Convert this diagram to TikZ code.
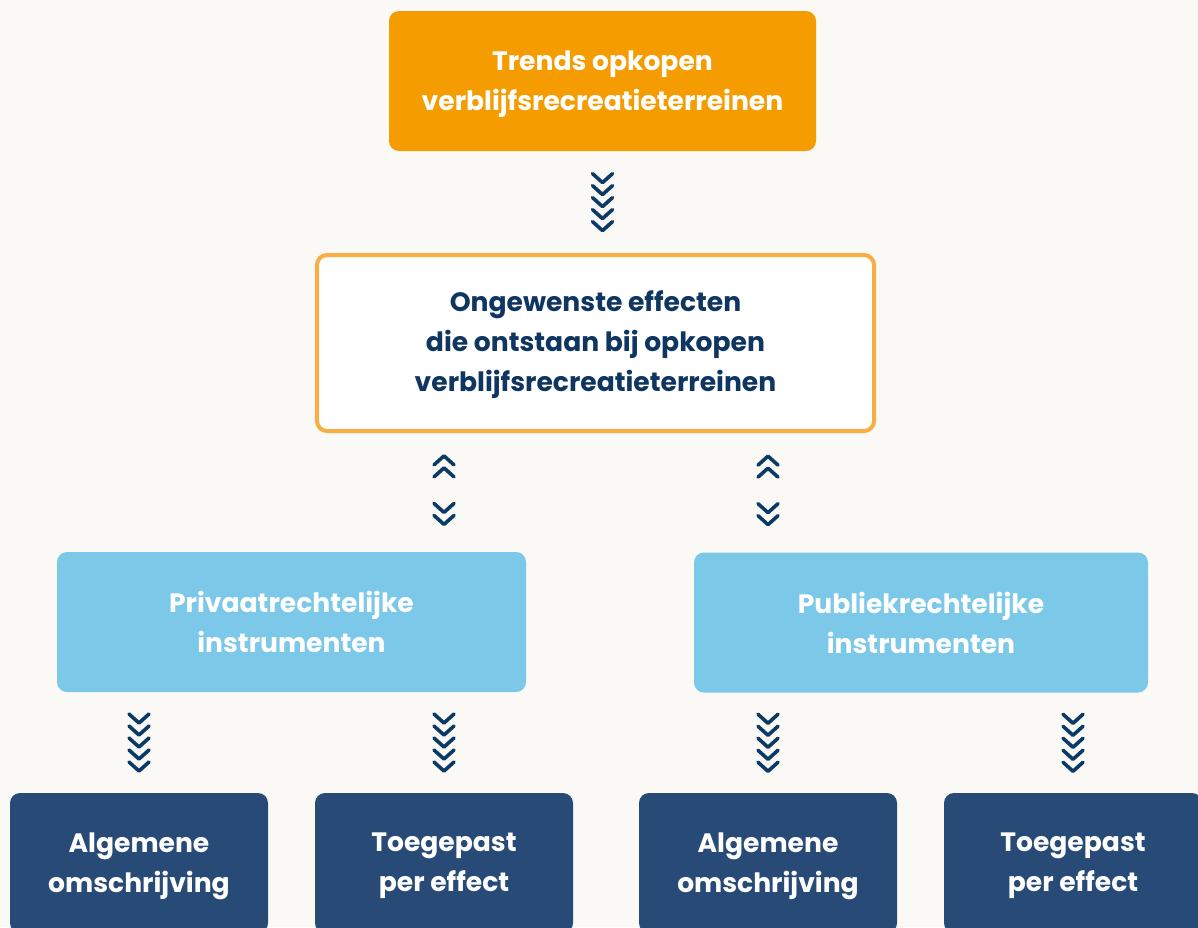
\documentclass[tikz,border=0pt]{standalone}
\usepackage{fontspec}
\setmainfont{Poppins}
\usetikzlibrary{calc}
\definecolor{bgcol}{HTML}{FAF9F5}
\definecolor{trendorange}{HTML}{F59C00}
\definecolor{frameorange}{HTML}{F9AE45}
\definecolor{navytext}{HTML}{0F3561}
\definecolor{lightblue}{HTML}{7BC8E8}
\definecolor{darkblue}{HTML}{274A76}
\definecolor{chevcol}{HTML}{0B3A67}
\tikzset{
  box/.style={rounded corners=10pt, align=center, font=\bfseries\fontsize{26.6}{40}\selectfont, inner sep=0pt},
  trendbox/.style={box, text depth=-2pt, fill=trendorange, text=white, minimum width=427pt, minimum height=140pt},
  effectbox/.style={box, text depth=3pt, fill=white, draw=frameorange, line width=4pt, text=navytext, minimum width=557pt, minimum height=176pt},
  instrbox/.style={box, fill=lightblue, text=white, minimum height=140pt},
  leafbox/.style={box, text depth=1pt, fill=darkblue, text=white, minimum width=258pt, minimum height=140pt},
  chevline/.style={draw=chevcol, line width=3.6pt, line cap=round, line join=round},
  pics/chevdown/.style={code={
    \foreach \k in {0,...,#1} {\path[chevline] (-10,\k*12-4.5) -- (0,\k*12+4.5) -- (10,\k*12-4.5);}
  }},
  pics/chevup/.style={code={
    \foreach \k in {0,...,#1} {\path[chevline] (-10,\k*12+4.5) -- (0,\k*12-4.5) -- (10,\k*12+4.5);}
  }}
}
\begin{document}
\begin{tikzpicture}[x=1pt, y=-1pt]
\fill[bgcol] (0,0) rectangle (1198,927);
\useasboundingbox (0,0) rectangle (1198,927);
\clip (0,0) rectangle (1198,927);

\node[trendbox] (trend) at (602.5,81) {Trends opkopen\\verblijfsrecreatieterreinen};
\node[effectbox] (effect) at (595.5,343) {Ongewenste effecten\\die ontstaan bij opkopen\\verblijfsrecreatieterreinen};
\node[instrbox, minimum width=469pt] (priv) at (291.5,622) {Privaatrechtelijke\\instrumenten};
\node[instrbox, minimum width=454pt] (publ) at (921,622.5) {Publiekrechtelijke\\instrumenten};

\node[leafbox] (privalg) at (139,863) {Algemene\\omschrijving};
\node[leafbox] (privtoe) at (444,863) {Toegepast\\per effect};
\node[leafbox] (publalg) at (768,863) {Algemene\\omschrijving};
\node[leafbox] (publtoe) at (1073,863) {Toegepast\\per effect};

% chevron connectors
\coordinate (c1) at ($(trend.south)!0.5!(trend.south|-effect.north)$);
\pic at ($(c1)+(0,-24)$) {chevdown=4};

\coordinate (c2) at ($(effect.south)!0.5!(priv.north)$);
\coordinate (c3) at ($(effect.south)!0.5!(publ.north)$);
\pic at ($(c2-|privtoe.north)+(0,-32)$) {chevup=1};
\pic at ($(c2-|privtoe.north)+(0,15.5)$) {chevdown=1};
\pic at ($(c3-|publalg.north)+(0,-32)$) {chevup=1};
\pic at ($(c3-|publalg.north)+(0,15.5)$) {chevdown=1};

\foreach \leaf/\parent in {privalg/priv, privtoe/priv, publalg/publ, publtoe/publ} {
  \coordinate (m) at ($(\parent.south)!0.5!(\leaf.north)$);
  \pic at ($(m-|\leaf.north)+(0,-24)$) {chevdown=4};
}
\end{tikzpicture}
\end{document}
